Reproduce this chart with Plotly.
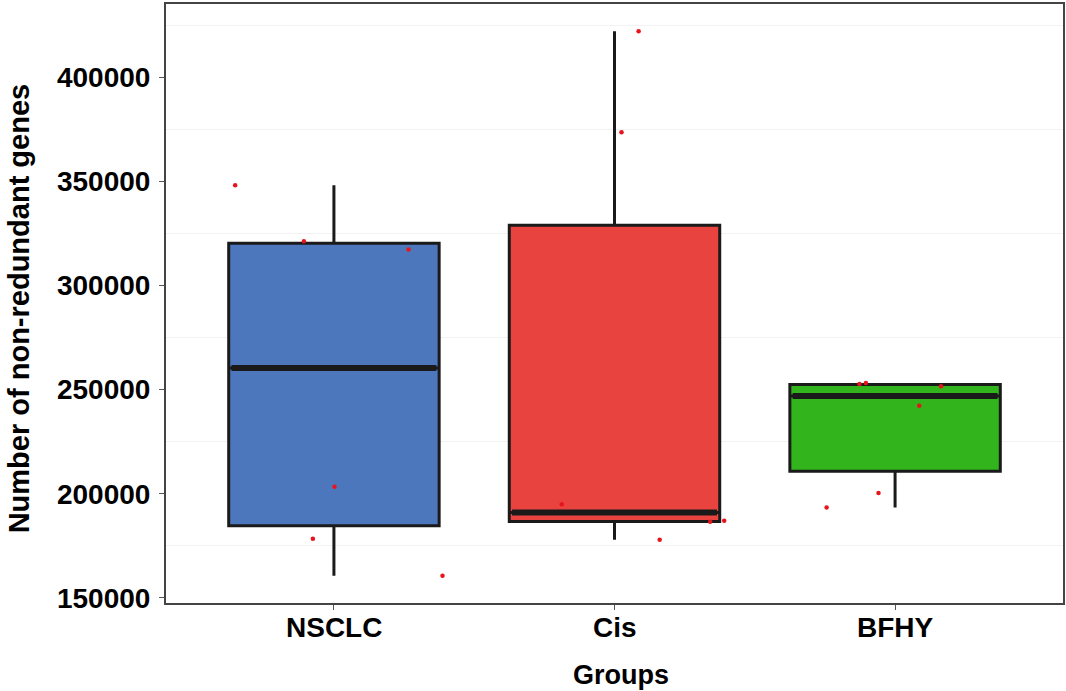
import numpy as np
import plotly.graph_objects as go

# Non-redundant gene counts per sample
groups = ["NSCLC", "Cis", "BFHY"]
nsclc_genes = [348100, 321200, 317300, 203400, 178400, 160600]
cis_genes = [422100, 373600, 195000, 177900, 186500, 187000]
bfhy_genes = [252700, 253200, 251600, 242300, 200300, 193400]
y_ticks = [150000, 200000, 250000, 300000, 350000, 400000]

# horizontal jitter of each sample point, in category units
nsclc_jitter = [-0.352, -0.107, 0.266, 0.002, -0.075, 0.387]
cis_jitter = [0.086, 0.025, -0.188, 0.161, 0.341, 0.391]
bfhy_jitter = [-0.127, -0.104, 0.164, 0.086, -0.059, -0.244]

fill_colors = ["#4C77BC", "#E8433E", "#31B41C"]
outline = "#1a1a1a"
box_width = 0.75
font_family = "Liberation Sans, Arial, sans-serif"
bold = dict(family=font_family, weight="bold", color="black")

values = [nsclc_genes, cis_genes, bfhy_genes]
jitters = [nsclc_jitter, cis_jitter, bfhy_jitter]

fig = go.Figure()

for i, (vals, color) in enumerate(zip(values, fill_colors)):
    arr = np.array(vals, dtype=float)
    q1, med, q3 = np.percentile(arr, [25, 50, 75])
    iqr = q3 - q1
    lo = arr[arr >= q1 - 1.5 * iqr].min()
    hi = arr[arr <= q3 + 1.5 * iqr].max()
    fig.add_trace(go.Box(
        x=[i], q1=[q1], median=[med], q3=[q3],
        lowerfence=[lo], upperfence=[hi],
        orientation="v", width=box_width, whiskerwidth=0,
        fillcolor=color, line=dict(color=outline, width=3),
        boxpoints=False, showlegend=False, name=groups[i],
    ))
    # thicker median bar
    fig.add_trace(go.Scatter(
        x=[i - box_width / 2 + 0.01, i + box_width / 2 - 0.01], y=[med, med],
        mode="lines", line=dict(color=outline, width=6),
        showlegend=False, hoverinfo="skip",
    ))

for i, (vals, jit) in enumerate(zip(values, jitters)):
    fig.add_trace(go.Scatter(
        x=[i + j for j in jit], y=vals, mode="markers",
        marker=dict(color="#E8141C", size=4.5, line=dict(width=0)),
        showlegend=False, name=groups[i],
    ))

all_vals = np.concatenate([np.array(v, dtype=float) for v in values])
span = all_vals.max() - all_vals.min()
y_range = [all_vals.min() - 0.05 * span, all_vals.max() + 0.05 * span]

axis_line = dict(showline=True, mirror=True, linecolor="#444444", linewidth=2,
                 zeroline=False, ticks="outside", ticklen=5, tickcolor="#555555",
                 tickwidth=1)

# category labels under the x axis
category_labels = [
    dict(text=g, xref="x", yref="paper", x=i, y=-(627 - 603) / 599,
         xanchor="center", yanchor="middle", showarrow=False,
         font=dict(size=28, **bold))
    for i, g in enumerate(groups)
]

fig.update_layout(
    width=1066, height=691,
    margin=dict(l=166, r=1, t=4, b=88),
    paper_bgcolor="white", plot_bgcolor="white",
    font=dict(family=font_family, color="black"),
    xaxis=dict(
        range=[-0.5985, 2.5985], tickvals=[0, 1, 2], ticktext=groups,
        showgrid=False, showticklabels=False,
        **axis_line,
    ),
    yaxis=dict(
        range=y_range, tickvals=y_ticks, ticktext=[str(v) for v in y_ticks],
        showgrid=False,
        minor=dict(tick0=175000, dtick=50000, showgrid=True,
                   gridcolor="#f2f2f2", gridwidth=1, ticks=""),
        tickfont=dict(size=28, **bold),
        ticklabelstandoff=3,
        **axis_line,
    ),
    annotations=category_labels + [
        dict(text="Groups", xref="paper", yref="paper",
             x=(622 - 166) / 899, y=-(675 - 603) / 599,
             xanchor="center", yanchor="middle", showarrow=False,
             font=dict(size=27, **bold)),
        dict(text="Number of non-redundant genes", xref="paper", yref="paper",
             x=-(166 - 19) / 899, y=(603 - 308) / 599, textangle=-90,
             xanchor="center", yanchor="middle", showarrow=False,
             font=dict(size=29, **bold)),
    ],
)

fig.write_html("out.html")
